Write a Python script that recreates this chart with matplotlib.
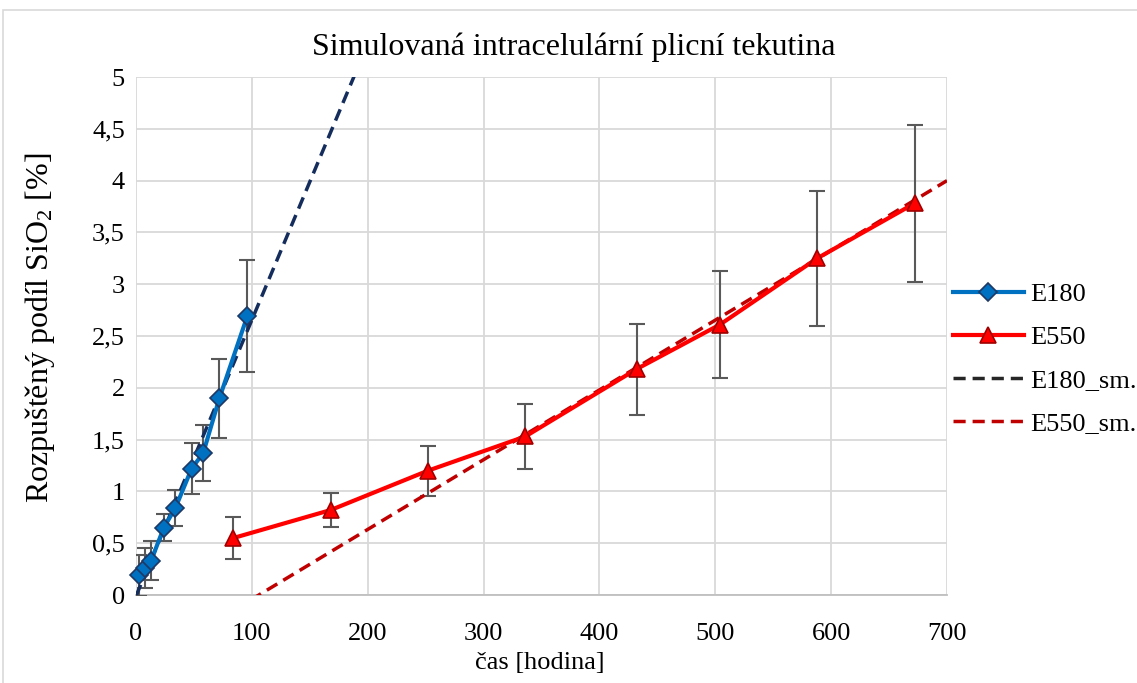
import matplotlib
matplotlib.use("Agg")
import matplotlib.pyplot as plt
import numpy as np
from matplotlib.patches import Rectangle
from matplotlib.ticker import FuncFormatter

plt.rcParams['font.family'] = ['Liberation Serif', 'DejaVu Serif']
plt.rcParams['mathtext.fontset'] = 'custom'
plt.rcParams['mathtext.rm'] = 'Liberation Serif'
plt.rcParams['mathtext.it'] = 'Liberation Serif:italic'

# E180 measurements
t_e180 = [3, 8, 13, 24, 34, 48, 58, 72, 96]
y_e180 = [0.19, 0.26, 0.33, 0.65, 0.84, 1.22, 1.37, 1.90, 2.69]
err_e180 = [0.20, 0.19, 0.19, 0.13, 0.17, 0.245, 0.27, 0.38, 0.54]

# E550 measurements
t_e550 = [84, 168, 252, 336, 432, 504, 588, 672]
y_e550 = [0.55, 0.82, 1.20, 1.53, 2.18, 2.61, 3.25, 3.78]
err_e550 = [0.20, 0.16, 0.24, 0.31, 0.44, 0.52, 0.65, 0.76]

# linear trends (slope, intercept)
fit_e180 = (0.02665, -0.01)
fit_e550 = (0.006734, -0.714)

x_ticks = [0, 100, 200, 300, 400, 500, 600, 700]
y_ticks = [0, 0.5, 1, 1.5, 2, 2.5, 3, 3.5, 4, 4.5, 5]

W, H = 1137, 683
fig = plt.figure(figsize=(W / 100, H / 100), dpi=100)
fig.patches.append(Rectangle((3 / W, -0.05), 1.1, 673 / H + 0.05, transform=fig.transFigure,
                             fill=False, edgecolor='#D9D9D9', linewidth=1.2))
ax = fig.add_axes([136 / W, 1 - 595 / H, (947 - 136) / W, (595 - 77) / H])

ax.set_xlim(0, 700)
ax.set_ylim(0, 5)
ax.set_xticks(x_ticks)
ax.set_yticks(y_ticks)
ax.grid(True, color='#D9D9D9', linewidth=1.3)
ax.set_axisbelow(True)
for s in ['top', 'right', 'left']:
    ax.spines[s].set_visible(False)
ax.spines['bottom'].set_color('#BFBFBF')
ax.spines['bottom'].set_linewidth(1.3)
ax.tick_params(length=0, labelsize=19, colors='black')
ax.tick_params(axis='x', pad=20)
ax.tick_params(axis='y', pad=8)
ax.yaxis.set_major_formatter(FuncFormatter(lambda v, p: ('%g' % v).replace('.', ',')))

# fitted trend lines
tt = np.array([0, 700])
ax.plot(tt, fit_e180[0] * tt + fit_e180[1], linestyle=(0, (3.5, 2)), color='#142D5C',
        linewidth=2.5, zorder=4)
ax.plot(tt, fit_e550[0] * tt + fit_e550[1], linestyle=(0, (3.5, 2)), color='#C00000',
        linewidth=2.5, zorder=4)

# error bars
ax.errorbar(t_e180, y_e180, yerr=err_e180, fmt='none', ecolor='#595959', elinewidth=1.5,
            capsize=6, capthick=1.5, zorder=3)
ax.errorbar(t_e550, y_e550, yerr=err_e550, fmt='none', ecolor='#595959', elinewidth=1.5,
            capsize=6, capthick=1.5, zorder=3)

l1, = ax.plot(t_e180, y_e180, color='#0070C0', linewidth=3, marker='D', markersize=9,
              markerfacecolor='#0070C0', markeredgecolor='#1F3864', markeredgewidth=1.2, zorder=5,
              clip_on=False)
l2, = ax.plot(t_e550, y_e550, color='#FF0000', linewidth=3, marker='^', markersize=12,
              markerfacecolor='#FF0000', markeredgecolor='#A00000', markeredgewidth=1.2, zorder=5)

fig.text(574 / W, 1 - 47 / H, 'Simulovaná intracelulární plicní tekutina', fontsize=23,
         ha='center', va='center')
fig.text(540 / W, 1 - 663 / H, 'čas [hodina]', fontsize=19, ha='center', va='center')
fig.text(40 / W, 1 - 328 / H, r'Rozpuštěný podíl SiO$_\mathregular{2}$ [%]', fontsize=23,
         ha='center', va='center', rotation=90)

hl3 = plt.Line2D([], [], linestyle=(0, (3.5, 2)), color='#262626', linewidth=2.5)
hl4 = plt.Line2D([], [], linestyle=(0, (3.5, 2)), color='#C00000', linewidth=2.5)
leg = fig.legend([l1, l2, hl3, hl4], ['E180', 'E550', 'E180_sm.', 'E550_sm.'],
                 loc='center left', bbox_to_anchor=(929 / W, 1 - 359 / H), frameon=False,
                 fontsize=19, handlelength=2.7, labelspacing=0.74, handletextpad=0.22)

fig.savefig('out.png', dpi=100)
